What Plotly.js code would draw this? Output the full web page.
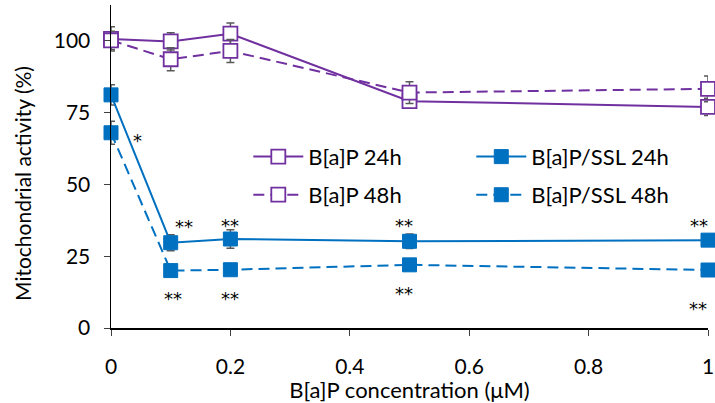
<!DOCTYPE html>
<html><head><meta charset="utf-8">
<script src="https://cdn.plot.ly/plotly-3.0.1.min.js"></script>
<style>html,body{margin:0;padding:0;background:#fff}#chart{width:715px;height:403px}</style>
</head><body><div id="chart"></div>
<script>
const conc = [0, 0.1, 0.2, 0.5, 1];
const bap24 = [100.7, 99.8, 102.5, 79, 77];
const bap24Err = [4.2, 3, 3.7, 2.5, 3];
const bap48 = [100.2, 93.6, 96.5, 82, 83.3];
const bap48Err = [3.2, 4, 4, 3.8, 4.5];
const ssl24 = [81.2, 29.7, 31, 30.2, 30.6];
const ssl24Err = [3.5, 2.8, 3.2, 2.5, 2];
const ssl48 = [68, 20, 20.3, 22, 20.2];
const ssl48Err = [4, 1.5, 1.5, 1.5, 1.5];
const starX = [0.044, 0.122, 0.2, 0.49, 0.985, 0.104, 0.2, 0.49, 0.983];
const starY = [67.2, 37.0, 37.6, 37.6, 37.6, 12.1, 12.1, 13.6, 8.6];
const starText = ["*", "**", "**", "**", "**", "**", "**", "**", "**"];
const xTitle = "B[a]P concentration (μM)";
const yTitle = "Mitochondrial activity (%)";

const purple = "#7030A0", blue = "#0070C0", errC = "#595959";
function err(a){return {type:"data", array:a, visible:true, color:errC, thickness:1.5, width:4};}
const traces = [
  {x:conc, y:bap24, name:"B[a]P 24h", mode:"lines+markers", cliponaxis:false, legend:"legend",
   line:{color:purple, width:2}, marker:{symbol:"square", size:14, color:"#fff", line:{color:purple, width:1.8}}, error_y:err(bap24Err)},
  {x:conc, y:bap48, name:"B[a]P 48h", mode:"lines+markers", cliponaxis:false, legend:"legend2",
   line:{color:purple, width:2, dash:"11px,6px"}, marker:{symbol:"square", size:14, color:"#fff", line:{color:purple, width:1.8}}, error_y:err(bap48Err)},
  {x:conc, y:ssl24, name:"B[a]P/SSL 24h", mode:"lines+markers", cliponaxis:false, legend:"legend3",
   line:{color:blue, width:2}, marker:{symbol:"square", size:14, color:blue, line:{color:blue, width:1}}, error_y:err(ssl24Err)},
  {x:conc, y:ssl48, name:"B[a]P/SSL 48h", mode:"lines+markers", cliponaxis:false, legend:"legend4",
   line:{color:blue, width:2, dash:"11px,6px"}, marker:{symbol:"square", size:14, color:blue, line:{color:blue, width:1}}, error_y:err(ssl48Err)}
];
const font = "Lato, 'Open Sans', sans-serif";
function leg(x,y){return {x:x, y:y, xanchor:"left", yanchor:"middle", bgcolor:"rgba(0,0,0,0)", font:{family:font, size:22, color:"#000"}, itemwidth:50};}
const annotations = starX.map((x,i)=>({x:x, y:starY[i], xref:"x", yref:"y", text:starText[i], showarrow:false, yshift:-5,
  font:{family:"'DejaVu Sans', sans-serif", size:18, color:"#000"}}));
annotations.push({xref:"paper", yref:"paper", x:-0.1474, y:0.446, text:yTitle, textangle:-90, showarrow:false,
  xanchor:"center", yanchor:"middle", font:{family:font, size:21, color:"#000"}});
const layout = {
  width:715, height:403,
  margin:{l:111, r:7, t:5, b:75},
  paper_bgcolor:"#fff", plot_bgcolor:"#fff",
  font:{family:font, color:"#000"},
  xaxis:{range:[0,1], tickvals:[0,0.2,0.4,0.6,0.8,1], ticktext:["0","0.2","0.4","0.6","0.8","1"],
    showline:true, linecolor:"#000", linewidth:1.5, ticks:"outside", ticklen:6, tickcolor:"#404040",
    showgrid:false, zeroline:false, tickfont:{size:21, family:font}, ticklabelstandoff:13,
    title:{text:xTitle, font:{size:22, family:font}, standoff:0}},
  yaxis:{range:[0,112.5], tickvals:[0,25,50,75,100], showline:true, linecolor:"#000", linewidth:1.5,
    ticks:"outside", ticklen:6, tickcolor:"#404040", showgrid:false, zeroline:false,
    tickfont:{size:21, family:font}, ticklabelstandoff:9},
  legend:leg(0.23, 0.53), legend2:leg(0.23, 0.412),
  legend3:leg(0.6035, 0.53), legend4:leg(0.6035, 0.412),
  annotations:annotations,
  showlegend:true
};
Plotly.newPlot("chart", traces, layout, {displayModeBar:false, staticPlot:true});
</script></body></html>
